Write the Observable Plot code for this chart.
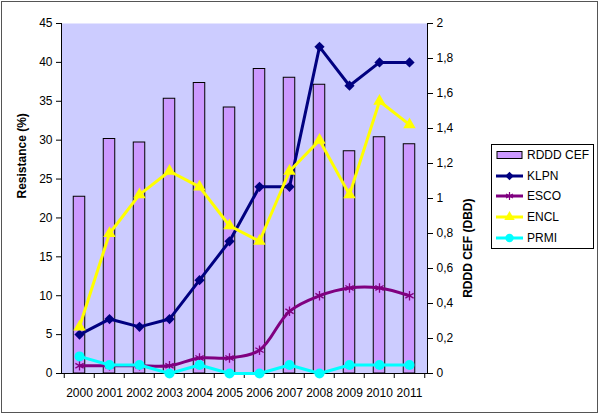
<!DOCTYPE html>
<html><head><meta charset="utf-8">
<script src="https://cdn.jsdelivr.net/npm/d3@7"></script>
<script src="https://cdn.jsdelivr.net/npm/@observablehq/plot@0.6"></script>
<style>
body{margin:0;background:#fff;font-family:"Liberation Sans",Arial,sans-serif;}
#wrap{position:relative;width:600px;height:415px;overflow:hidden;}
#border{position:absolute;left:1px;top:1px;width:595px;height:410px;border:1px solid #555;pointer-events:none;}
#legend{position:absolute;left:491px;top:144px;width:101px;height:103px;border:1px solid #000;background:#fff;font-size:12px;box-sizing:content-box;}
.item{display:flex;align-items:center;height:20.6px;padding-left:4px;}
.item svg{margin-right:3px;}
</style>
</head><body>
<div id="wrap"><div id="chart"></div><div id="legend"></div><div id="border"></div></div>
<script>
// ---- data ----
const years = ["2000","2001","2002","2003","2004","2005","2006","2007","2008","2009","2010","2011"];
const rdddCef = [1.01,1.34,1.32,1.57,1.66,1.52,1.74,1.69,1.65,1.27,1.35,1.31];
const klpn = [5,7,6,7,12,17,24,24,42,37,40,40];
const esco = [1,1,1,1,2,2,3,8,10,11,11,10];
const encl = [6,18,23,26,24,19,17,26,30,23,35,32];
const prmi = [2.2,1.1,1.1,0,1.1,0,0,1.1,0,1.1,1.1,1.1];
const leftTicks = [0,5,10,15,20,25,30,35,40,45];
const rightTicks = [0,0.2,0.4,0.6,0.8,1,1.2,1.4,1.6,1.8,2];
const rightTickLabels = ["0","0,2","0,4","0,6","0,8","1","1,2","1,4","1,6","1,8","2"];

// ---- styles ----
const W = 600, H = 415, ML = 61, MR = 173, MT = 23, MB = 42;
const S = 45 / 2; // right axis (0–2) mapped onto left axis (0–45)
const halfBand = (W - ML - MR) / years.length / 2;
const seriesStyle = [
  {name:"KLPN", values:klpn, color:"#000080", symbol:"diamond2", r:4.6, curve:"linear"},
  {name:"ESCO", values:esco, color:"#800080", symbol:"asterisk", r:4.5, curve:"catmull-rom"},
  {name:"ENCL", values:encl, color:"#ffff00", symbol:"triangle", r:4.6, curve:"linear"},
  {name:"PRMI", values:prmi, color:"#00ffff", symbol:"circle", r:5, curve:"linear"}
];

const bars = years.map((year, i) => ({year, value: rdddCef[i]}));

const lineMarks = seriesStyle.flatMap(s => {
  const pts = years.map((year, i) => ({year, value: s.values[i]}));
  const filled = s.symbol !== "asterisk";
  return [
    Plot.line(pts, {x:"year", y:"value", stroke:s.color, strokeWidth:3, curve:s.curve}),
    Plot.dot(pts, {x:"year", y:"value", symbol:s.symbol, r:s.r,
      fill: filled ? s.color : "none", stroke:s.color, strokeWidth: filled ? 0 : 1.3})
  ];
});

const chart = Plot.plot({
  width:W, height:H, marginLeft:ML, marginRight:MR, marginTop:MT, marginBottom:MB,
  style:{fontFamily:"'Liberation Sans', Arial, sans-serif", fontSize:"12px", color:"#000", background:"transparent"},
  x:{type:"band", domain:years, padding:0},
  y:{domain:[0,45]},
  marks:[
    Plot.frame({fill:"#ccccff", stroke:null}),
    Plot.barY(bars, {x:"year", y:d => d.value * S, fill:"#cc99ff", stroke:"#000", strokeWidth:1, insetLeft:halfBand-6, insetRight:halfBand-6}),
    Plot.frame({anchor:"left", stroke:"#000"}),
    Plot.frame({anchor:"right", stroke:"#000"}),
    Plot.frame({anchor:"bottom", stroke:"#000"}),
    Plot.axisY({anchor:"left", ticks:leftTicks, tickSize:5, tickPadding:4, label:null}),
    Plot.axisY({anchor:"right", ticks:rightTicks.map(v => v * S), tickSize:5, tickPadding:4, label:null,
      tickFormat:d => rightTickLabels[rightTicks.findIndex(v => Math.abs(v * S - d) < 1e-6)]}),
    Plot.axisX(years, {anchor:"bottom", tickSize:5, tickFormat:() => "", dx:-halfBand, label:null}),
    Plot.axisX([years[years.length-1]], {anchor:"bottom", tickSize:5, tickFormat:() => "", dx:halfBand, label:null}),
    Plot.axisX({anchor:"bottom", tickSize:0, tickPadding:15, label:null}),
    Plot.text(["Resistance (%)"], {frameAnchor:"left", rotate:-90, dx:-39, fontWeight:"bold", fontSize:12}),
    Plot.text(["RDDD CEF (DBD)"], {frameAnchor:"right", rotate:-90, dx:41, fontWeight:"bold", fontSize:12}),
    ...lineMarks
  ]
});
document.getElementById("chart").appendChild(chart);

// ---- legend ----
const legend = document.getElementById("legend");
const items = [{name:"RDDD CEF", bar:true}, ...seriesStyle];
for (const it of items) {
  const div = document.createElement("div");
  div.className = "item";
  let svg;
  if (it.bar) {
    svg = `<svg width="28" height="12"><rect x="1" y="2.5" width="25" height="7" fill="#cc99ff" stroke="#000"/></svg>`;
  } else {
    const sym = {diamond2:d3.symbolDiamond2, asterisk:d3.symbolAsterisk, triangle:d3.symbolTriangle, circle:d3.symbolCircle}[it.symbol];
    const p = d3.symbol(sym, Math.PI * it.r * it.r * 0.7)();
    const filled = it.symbol !== "asterisk";
    svg = `<svg width="28" height="12"><line x1="0" x2="27" y1="6" y2="6" stroke="${it.color}" stroke-width="3"/>` +
      `<path transform="translate(13.5,6)" d="${p}" fill="${filled ? it.color : "none"}" stroke="${it.color}" stroke-width="${filled ? 0 : 1.2}"/></svg>`;
  }
  div.innerHTML = svg + `<span>${it.name}</span>`;
  legend.appendChild(div);
}
</script>
</body></html>
